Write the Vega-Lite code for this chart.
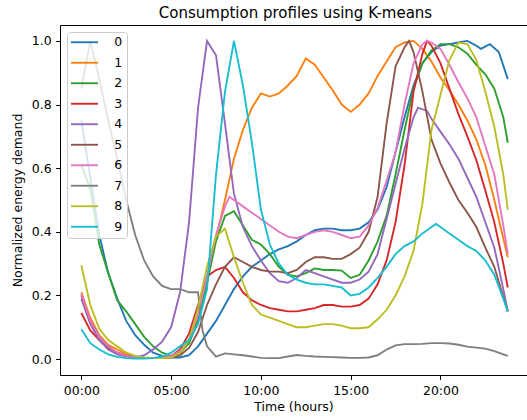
{
"$schema": "https://vega.github.io/schema/vega-lite/v6.json",
"width": 467, "height": 350,
"autosize": {"type": "none"},
"padding": {"left": 60, "top": 25, "right": 0, "bottom": 45},
"background": "white",
"config": {"view": {"stroke": null}, "font": "DejaVu Sans"},
"title": {"text": "Consumption profiles using K-means", "fontSize": 15, "fontWeight": "normal", "font": "DejaVu Sans", "color": "black", "anchor": "middle", "frame": "group", "baseline": "alphabetic", "offset": -8, "dx": 2},
"data": {"values": [
{"h":0,"c":"0","v":0.75},{"h":0.5,"c":"0","v":0.57},{"h":1,"c":"0","v":0.39},{"h":1.5,"c":"0","v":0.27},{"h":2,"c":"0","v":0.19},{"h":2.5,"c":"0","v":0.12},{"h":3,"c":"0","v":0.075},{"h":3.5,"c":"0","v":0.045},{"h":4,"c":"0","v":0.02},{"h":4.5,"c":"0","v":0.01},{"h":5,"c":"0","v":0.005},{"h":5.5,"c":"0","v":0.005},{"h":6,"c":"0","v":0.012},{"h":6.5,"c":"0","v":0.04},{"h":7,"c":"0","v":0.08},{"h":7.5,"c":"0","v":0.12},{"h":8,"c":"0","v":0.17},{"h":8.5,"c":"0","v":0.22},{"h":9,"c":"0","v":0.26},{"h":9.5,"c":"0","v":0.29},{"h":10,"c":"0","v":0.31},{"h":10.5,"c":"0","v":0.33},{"h":11,"c":"0","v":0.345},{"h":11.5,"c":"0","v":0.355},{"h":12,"c":"0","v":0.37},{"h":12.5,"c":"0","v":0.39},{"h":13,"c":"0","v":0.405},{"h":13.5,"c":"0","v":0.41},{"h":14,"c":"0","v":0.41},{"h":14.5,"c":"0","v":0.405},{"h":15,"c":"0","v":0.405},{"h":15.5,"c":"0","v":0.41},{"h":16,"c":"0","v":0.43},{"h":16.5,"c":"0","v":0.47},{"h":17,"c":"0","v":0.54},{"h":17.5,"c":"0","v":0.65},{"h":18,"c":"0","v":0.76},{"h":18.5,"c":"0","v":0.86},{"h":19,"c":"0","v":0.93},{"h":19.5,"c":"0","v":0.965},{"h":20,"c":"0","v":0.985},{"h":20.5,"c":"0","v":0.99},{"h":21,"c":"0","v":0.995},{"h":21.5,"c":"0","v":1.0},{"h":22,"c":"0","v":0.985},{"h":22.25,"c":"0","v":0.975},{"h":22.75,"c":"0","v":0.99},{"h":23.25,"c":"0","v":0.965},{"h":23.75,"c":"0","v":0.88},
{"h":0,"c":"1","v":0.21},{"h":0.5,"c":"1","v":0.13},{"h":1,"c":"1","v":0.075},{"h":1.5,"c":"1","v":0.045},{"h":2,"c":"1","v":0.03},{"h":2.5,"c":"1","v":0.015},{"h":3,"c":"1","v":0.008},{"h":3.5,"c":"1","v":0.004},{"h":4,"c":"1","v":0.003},{"h":4.5,"c":"1","v":0.003},{"h":5,"c":"1","v":0.006},{"h":5.5,"c":"1","v":0.02},{"h":6,"c":"1","v":0.06},{"h":6.5,"c":"1","v":0.13},{"h":7,"c":"1","v":0.24},{"h":7.5,"c":"1","v":0.38},{"h":8,"c":"1","v":0.5},{"h":8.5,"c":"1","v":0.63},{"h":9,"c":"1","v":0.72},{"h":9.5,"c":"1","v":0.79},{"h":10,"c":"1","v":0.835},{"h":10.5,"c":"1","v":0.825},{"h":11,"c":"1","v":0.835},{"h":11.5,"c":"1","v":0.86},{"h":12,"c":"1","v":0.89},{"h":12.5,"c":"1","v":0.945},{"h":13,"c":"1","v":0.925},{"h":13.5,"c":"1","v":0.885},{"h":14,"c":"1","v":0.845},{"h":14.5,"c":"1","v":0.8},{"h":15,"c":"1","v":0.777},{"h":15.5,"c":"1","v":0.8},{"h":16,"c":"1","v":0.835},{"h":16.5,"c":"1","v":0.89},{"h":17,"c":"1","v":0.935},{"h":17.5,"c":"1","v":0.98},{"h":18,"c":"1","v":0.995},{"h":18.5,"c":"1","v":1.0},{"h":19,"c":"1","v":0.975},{"h":19.5,"c":"1","v":0.935},{"h":20,"c":"1","v":0.885},{"h":20.5,"c":"1","v":0.845},{"h":21,"c":"1","v":0.8},{"h":21.5,"c":"1","v":0.75},{"h":22,"c":"1","v":0.69},{"h":22.5,"c":"1","v":0.61},{"h":23,"c":"1","v":0.5},{"h":23.5,"c":"1","v":0.38},{"h":23.75,"c":"1","v":0.32},
{"h":0,"c":"2","v":0.61},{"h":0.5,"c":"2","v":0.535},{"h":1,"c":"2","v":0.36},{"h":1.5,"c":"2","v":0.27},{"h":2,"c":"2","v":0.185},{"h":2.5,"c":"2","v":0.15},{"h":3,"c":"2","v":0.11},{"h":3.5,"c":"2","v":0.07},{"h":4,"c":"2","v":0.04},{"h":4.5,"c":"2","v":0.02},{"h":5,"c":"2","v":0.01},{"h":5.5,"c":"2","v":0.02},{"h":6,"c":"2","v":0.05},{"h":6.5,"c":"2","v":0.12},{"h":7,"c":"2","v":0.24},{"h":7.5,"c":"2","v":0.37},{"h":8,"c":"2","v":0.45},{"h":8.5,"c":"2","v":0.465},{"h":9,"c":"2","v":0.42},{"h":9.5,"c":"2","v":0.375},{"h":10,"c":"2","v":0.36},{"h":10.5,"c":"2","v":0.33},{"h":11,"c":"2","v":0.29},{"h":11.5,"c":"2","v":0.265},{"h":12,"c":"2","v":0.26},{"h":12.5,"c":"2","v":0.27},{"h":13,"c":"2","v":0.285},{"h":13.5,"c":"2","v":0.28},{"h":14,"c":"2","v":0.28},{"h":14.5,"c":"2","v":0.278},{"h":15,"c":"2","v":0.255},{"h":15.5,"c":"2","v":0.265},{"h":16,"c":"2","v":0.31},{"h":16.5,"c":"2","v":0.37},{"h":17,"c":"2","v":0.45},{"h":17.5,"c":"2","v":0.58},{"h":18,"c":"2","v":0.72},{"h":18.5,"c":"2","v":0.85},{"h":19,"c":"2","v":0.93},{"h":19.5,"c":"2","v":0.97},{"h":20,"c":"2","v":0.99},{"h":20.5,"c":"2","v":0.99},{"h":21,"c":"2","v":0.98},{"h":21.5,"c":"2","v":0.96},{"h":22,"c":"2","v":0.925},{"h":22.5,"c":"2","v":0.895},{"h":23,"c":"2","v":0.85},{"h":23.5,"c":"2","v":0.76},{"h":23.75,"c":"2","v":0.68},
{"h":0,"c":"3","v":0.145},{"h":0.5,"c":"3","v":0.09},{"h":1,"c":"3","v":0.06},{"h":1.5,"c":"3","v":0.035},{"h":2,"c":"3","v":0.02},{"h":2.5,"c":"3","v":0.01},{"h":3,"c":"3","v":0.005},{"h":3.5,"c":"3","v":0.003},{"h":4,"c":"3","v":0.003},{"h":4.5,"c":"3","v":0.005},{"h":5,"c":"3","v":0.01},{"h":5.5,"c":"3","v":0.03},{"h":6,"c":"3","v":0.08},{"h":6.5,"c":"3","v":0.17},{"h":7,"c":"3","v":0.26},{"h":7.5,"c":"3","v":0.28},{"h":8,"c":"3","v":0.29},{"h":8.5,"c":"3","v":0.255},{"h":9,"c":"3","v":0.21},{"h":9.5,"c":"3","v":0.185},{"h":10,"c":"3","v":0.17},{"h":10.5,"c":"3","v":0.16},{"h":11,"c":"3","v":0.155},{"h":11.5,"c":"3","v":0.15},{"h":12,"c":"3","v":0.15},{"h":12.5,"c":"3","v":0.155},{"h":13,"c":"3","v":0.16},{"h":13.5,"c":"3","v":0.17},{"h":14,"c":"3","v":0.17},{"h":14.5,"c":"3","v":0.165},{"h":15,"c":"3","v":0.165},{"h":15.5,"c":"3","v":0.17},{"h":16,"c":"3","v":0.19},{"h":16.5,"c":"3","v":0.235},{"h":17,"c":"3","v":0.31},{"h":17.5,"c":"3","v":0.43},{"h":18,"c":"3","v":0.61},{"h":18.5,"c":"3","v":0.84},{"h":19,"c":"3","v":0.96},{"h":19.25,"c":"3","v":1.0},{"h":19.5,"c":"3","v":0.985},{"h":20,"c":"3","v":0.93},{"h":20.5,"c":"3","v":0.85},{"h":21,"c":"3","v":0.77},{"h":21.5,"c":"3","v":0.7},{"h":22,"c":"3","v":0.625},{"h":22.5,"c":"3","v":0.53},{"h":23,"c":"3","v":0.43},{"h":23.5,"c":"3","v":0.3},{"h":23.75,"c":"3","v":0.225},
{"h":0,"c":"4","v":0.19},{"h":0.5,"c":"4","v":0.11},{"h":1,"c":"4","v":0.06},{"h":1.5,"c":"4","v":0.03},{"h":2,"c":"4","v":0.015},{"h":2.5,"c":"4","v":0.008},{"h":3,"c":"4","v":0.005},{"h":3.5,"c":"4","v":0.012},{"h":4,"c":"4","v":0.03},{"h":4.5,"c":"4","v":0.055},{"h":5,"c":"4","v":0.1},{"h":5.5,"c":"4","v":0.21},{"h":6,"c":"4","v":0.43},{"h":6.5,"c":"4","v":0.79},{"h":7,"c":"4","v":1.0},{"h":7.5,"c":"4","v":0.955},{"h":8,"c":"4","v":0.74},{"h":8.5,"c":"4","v":0.52},{"h":9,"c":"4","v":0.415},{"h":9.5,"c":"4","v":0.355},{"h":10,"c":"4","v":0.31},{"h":10.5,"c":"4","v":0.27},{"h":11,"c":"4","v":0.245},{"h":11.5,"c":"4","v":0.24},{"h":12,"c":"4","v":0.255},{"h":12.5,"c":"4","v":0.28},{"h":13,"c":"4","v":0.27},{"h":13.5,"c":"4","v":0.26},{"h":14,"c":"4","v":0.25},{"h":14.5,"c":"4","v":0.24},{"h":15,"c":"4","v":0.24},{"h":15.5,"c":"4","v":0.25},{"h":16,"c":"4","v":0.275},{"h":16.5,"c":"4","v":0.33},{"h":17,"c":"4","v":0.44},{"h":17.5,"c":"4","v":0.55},{"h":18,"c":"4","v":0.66},{"h":18.5,"c":"4","v":0.76},{"h":18.75,"c":"4","v":0.79},{"h":19.25,"c":"4","v":0.78},{"h":19.5,"c":"4","v":0.755},{"h":20,"c":"4","v":0.715},{"h":20.5,"c":"4","v":0.675},{"h":21,"c":"4","v":0.63},{"h":21.5,"c":"4","v":0.57},{"h":22,"c":"4","v":0.51},{"h":22.5,"c":"4","v":0.43},{"h":23,"c":"4","v":0.35},{"h":23.5,"c":"4","v":0.22},{"h":23.75,"c":"4","v":0.15},
{"h":0,"c":"5","v":0.2},{"h":0.5,"c":"5","v":0.12},{"h":1,"c":"5","v":0.07},{"h":1.5,"c":"5","v":0.04},{"h":2,"c":"5","v":0.02},{"h":2.5,"c":"5","v":0.01},{"h":3,"c":"5","v":0.005},{"h":3.5,"c":"5","v":0.003},{"h":4,"c":"5","v":0.003},{"h":4.5,"c":"5","v":0.003},{"h":5,"c":"5","v":0.005},{"h":5.5,"c":"5","v":0.012},{"h":6,"c":"5","v":0.035},{"h":6.5,"c":"5","v":0.085},{"h":7,"c":"5","v":0.17},{"h":7.5,"c":"5","v":0.235},{"h":8,"c":"5","v":0.29},{"h":8.5,"c":"5","v":0.32},{"h":9,"c":"5","v":0.305},{"h":9.5,"c":"5","v":0.29},{"h":10,"c":"5","v":0.28},{"h":10.5,"c":"5","v":0.275},{"h":11,"c":"5","v":0.275},{"h":11.5,"c":"5","v":0.27},{"h":12,"c":"5","v":0.28},{"h":12.5,"c":"5","v":0.305},{"h":13,"c":"5","v":0.32},{"h":13.5,"c":"5","v":0.32},{"h":14,"c":"5","v":0.315},{"h":14.5,"c":"5","v":0.315},{"h":15,"c":"5","v":0.33},{"h":15.5,"c":"5","v":0.35},{"h":16,"c":"5","v":0.4},{"h":16.5,"c":"5","v":0.51},{"h":17,"c":"5","v":0.74},{"h":17.5,"c":"5","v":0.92},{"h":18,"c":"5","v":0.98},{"h":18.25,"c":"5","v":1.0},{"h":18.5,"c":"5","v":0.965},{"h":19,"c":"5","v":0.84},{"h":19.5,"c":"5","v":0.69},{"h":20,"c":"5","v":0.615},{"h":20.5,"c":"5","v":0.555},{"h":21,"c":"5","v":0.5},{"h":21.5,"c":"5","v":0.46},{"h":22,"c":"5","v":0.415},{"h":22.5,"c":"5","v":0.35},{"h":23,"c":"5","v":0.29},{"h":23.5,"c":"5","v":0.195},{"h":23.75,"c":"5","v":0.15},
{"h":0,"c":"6","v":0.205},{"h":0.5,"c":"6","v":0.12},{"h":1,"c":"6","v":0.07},{"h":1.5,"c":"6","v":0.04},{"h":2,"c":"6","v":0.02},{"h":2.5,"c":"6","v":0.01},{"h":3,"c":"6","v":0.005},{"h":3.5,"c":"6","v":0.003},{"h":4,"c":"6","v":0.003},{"h":4.5,"c":"6","v":0.005},{"h":5,"c":"6","v":0.01},{"h":5.5,"c":"6","v":0.025},{"h":6,"c":"6","v":0.06},{"h":6.5,"c":"6","v":0.14},{"h":7,"c":"6","v":0.26},{"h":7.5,"c":"6","v":0.39},{"h":8,"c":"6","v":0.48},{"h":8.25,"c":"6","v":0.51},{"h":8.5,"c":"6","v":0.5},{"h":9,"c":"6","v":0.48},{"h":9.5,"c":"6","v":0.46},{"h":10,"c":"6","v":0.44},{"h":10.5,"c":"6","v":0.42},{"h":11,"c":"6","v":0.4},{"h":11.5,"c":"6","v":0.385},{"h":12,"c":"6","v":0.38},{"h":12.5,"c":"6","v":0.39},{"h":13,"c":"6","v":0.4},{"h":13.5,"c":"6","v":0.405},{"h":14,"c":"6","v":0.4},{"h":14.5,"c":"6","v":0.39},{"h":15,"c":"6","v":0.38},{"h":15.5,"c":"6","v":0.385},{"h":16,"c":"6","v":0.42},{"h":16.5,"c":"6","v":0.475},{"h":17,"c":"6","v":0.56},{"h":17.5,"c":"6","v":0.65},{"h":18,"c":"6","v":0.8},{"h":18.5,"c":"6","v":0.93},{"h":19,"c":"6","v":0.99},{"h":19.25,"c":"6","v":1.0},{"h":19.5,"c":"6","v":0.995},{"h":20,"c":"6","v":0.975},{"h":20.5,"c":"6","v":0.925},{"h":21,"c":"6","v":0.87},{"h":21.5,"c":"6","v":0.82},{"h":22,"c":"6","v":0.76},{"h":22.5,"c":"6","v":0.67},{"h":23,"c":"6","v":0.58},{"h":23.5,"c":"6","v":0.42},{"h":23.75,"c":"6","v":0.33},
{"h":0,"c":"7","v":0.85},{"h":0.5,"c":"7","v":1.0},{"h":1,"c":"7","v":0.88},{"h":1.5,"c":"7","v":0.75},{"h":2,"c":"7","v":0.63},{"h":2.5,"c":"7","v":0.5},{"h":3,"c":"7","v":0.39},{"h":3.5,"c":"7","v":0.31},{"h":4,"c":"7","v":0.26},{"h":4.5,"c":"7","v":0.23},{"h":5,"c":"7","v":0.22},{"h":5.5,"c":"7","v":0.22},{"h":6,"c":"7","v":0.21},{"h":6.5,"c":"7","v":0.21},{"h":6.75,"c":"7","v":0.09},{"h":7,"c":"7","v":0.04},{"h":7.5,"c":"7","v":0.008},{"h":8,"c":"7","v":0.018},{"h":8.5,"c":"7","v":0.015},{"h":9,"c":"7","v":0.012},{"h":9.5,"c":"7","v":0.008},{"h":10,"c":"7","v":0.004},{"h":10.5,"c":"7","v":0.003},{"h":11,"c":"7","v":0.003},{"h":11.5,"c":"7","v":0.008},{"h":12,"c":"7","v":0.013},{"h":12.5,"c":"7","v":0.01},{"h":13,"c":"7","v":0.008},{"h":13.5,"c":"7","v":0.007},{"h":14,"c":"7","v":0.006},{"h":14.5,"c":"7","v":0.005},{"h":15,"c":"7","v":0.004},{"h":15.5,"c":"7","v":0.004},{"h":16,"c":"7","v":0.005},{"h":16.5,"c":"7","v":0.012},{"h":17,"c":"7","v":0.03},{"h":17.5,"c":"7","v":0.043},{"h":18,"c":"7","v":0.047},{"h":18.5,"c":"7","v":0.047},{"h":19,"c":"7","v":0.048},{"h":19.5,"c":"7","v":0.05},{"h":20,"c":"7","v":0.05},{"h":20.5,"c":"7","v":0.049},{"h":21,"c":"7","v":0.045},{"h":21.5,"c":"7","v":0.039},{"h":22,"c":"7","v":0.036},{"h":22.5,"c":"7","v":0.033},{"h":23,"c":"7","v":0.025},{"h":23.5,"c":"7","v":0.015},{"h":23.75,"c":"7","v":0.01},
{"h":0,"c":"8","v":0.295},{"h":0.5,"c":"8","v":0.17},{"h":1,"c":"8","v":0.095},{"h":1.5,"c":"8","v":0.06},{"h":2,"c":"8","v":0.04},{"h":2.5,"c":"8","v":0.02},{"h":3,"c":"8","v":0.01},{"h":3.5,"c":"8","v":0.005},{"h":4,"c":"8","v":0.003},{"h":4.5,"c":"8","v":0.003},{"h":5,"c":"8","v":0.005},{"h":5.5,"c":"8","v":0.02},{"h":6,"c":"8","v":0.06},{"h":6.5,"c":"8","v":0.16},{"h":7,"c":"8","v":0.29},{"h":7.5,"c":"8","v":0.385},{"h":8,"c":"8","v":0.41},{"h":8.5,"c":"8","v":0.32},{"h":9,"c":"8","v":0.24},{"h":9.5,"c":"8","v":0.17},{"h":10,"c":"8","v":0.14},{"h":10.5,"c":"8","v":0.13},{"h":11,"c":"8","v":0.12},{"h":11.5,"c":"8","v":0.11},{"h":12,"c":"8","v":0.1},{"h":12.5,"c":"8","v":0.1},{"h":13,"c":"8","v":0.105},{"h":13.5,"c":"8","v":0.11},{"h":14,"c":"8","v":0.11},{"h":14.5,"c":"8","v":0.105},{"h":15,"c":"8","v":0.097},{"h":15.5,"c":"8","v":0.097},{"h":16,"c":"8","v":0.1},{"h":16.5,"c":"8","v":0.125},{"h":17,"c":"8","v":0.155},{"h":17.5,"c":"8","v":0.2},{"h":18,"c":"8","v":0.26},{"h":18.5,"c":"8","v":0.34},{"h":19,"c":"8","v":0.49},{"h":19.5,"c":"8","v":0.72},{"h":20,"c":"8","v":0.83},{"h":20.5,"c":"8","v":0.94},{"h":21,"c":"8","v":0.995},{"h":21.5,"c":"8","v":0.99},{"h":22,"c":"8","v":0.94},{"h":22.5,"c":"8","v":0.84},{"h":23,"c":"8","v":0.73},{"h":23.5,"c":"8","v":0.58},{"h":23.75,"c":"8","v":0.47},
{"h":0,"c":"9","v":0.094},{"h":0.5,"c":"9","v":0.05},{"h":1,"c":"9","v":0.03},{"h":1.5,"c":"9","v":0.015},{"h":2,"c":"9","v":0.007},{"h":2.5,"c":"9","v":0.003},{"h":3,"c":"9","v":0.002},{"h":3.5,"c":"9","v":0.002},{"h":4,"c":"9","v":0.003},{"h":4.5,"c":"9","v":0.008},{"h":5,"c":"9","v":0.02},{"h":5.5,"c":"9","v":0.04},{"h":6,"c":"9","v":0.06},{"h":6.5,"c":"9","v":0.11},{"h":7,"c":"9","v":0.22},{"h":7.5,"c":"9","v":0.58},{"h":8,"c":"9","v":0.84},{"h":8.5,"c":"9","v":1.0},{"h":9,"c":"9","v":0.86},{"h":9.5,"c":"9","v":0.68},{"h":10,"c":"9","v":0.47},{"h":10.5,"c":"9","v":0.36},{"h":11,"c":"9","v":0.3},{"h":11.5,"c":"9","v":0.265},{"h":12,"c":"9","v":0.25},{"h":12.5,"c":"9","v":0.24},{"h":13,"c":"9","v":0.235},{"h":13.5,"c":"9","v":0.235},{"h":14,"c":"9","v":0.23},{"h":14.5,"c":"9","v":0.225},{"h":15,"c":"9","v":0.2},{"h":15.5,"c":"9","v":0.205},{"h":16,"c":"9","v":0.225},{"h":16.5,"c":"9","v":0.255},{"h":17,"c":"9","v":0.29},{"h":17.5,"c":"9","v":0.33},{"h":18,"c":"9","v":0.355},{"h":18.5,"c":"9","v":0.37},{"h":19,"c":"9","v":0.395},{"h":19.5,"c":"9","v":0.415},{"h":19.75,"c":"9","v":0.425},{"h":20,"c":"9","v":0.415},{"h":20.5,"c":"9","v":0.395},{"h":21,"c":"9","v":0.375},{"h":21.5,"c":"9","v":0.355},{"h":22,"c":"9","v":0.34},{"h":22.5,"c":"9","v":0.31},{"h":23,"c":"9","v":0.265},{"h":23.5,"c":"9","v":0.19},{"h":23.75,"c":"9","v":0.15}
]},
"resolve": {"axis": {"x": "independent", "y": "independent"}},
"layer": [
{
"mark": {"type": "line", "strokeWidth": 1.875},
"encoding": {
"x": {"field": "h", "type": "quantitative", "scale": {"domain": [-1.1875, 24.82], "nice": false, "zero": false},
 "axis": {"orient": "bottom", "values": [0, 5, 10, 15, 20], "labelExpr": "(datum.value < 10 ? '0' : '') + datum.value + ':00'", "grid": false, "domainColor": "black", "domainWidth": 1, "tickColor": "black", "tickWidth": 1, "tickSize": 4.4, "labelFont": "DejaVu Sans", "labelFontSize": 12.5, "labelColor": "black", "labelPadding": 5, "labelFlush": false, "labelOverlap": false, "title": "Time (hours)", "titleFont": "DejaVu Sans", "titleFontSize": 12.5, "titleFontWeight": "normal", "titleColor": "black", "titlePadding": 4}},
"y": {"field": "v", "type": "quantitative", "scale": {"domain": [-0.05, 1.05], "nice": false, "zero": false},
 "axis": {"orient": "left", "values": [0, 0.2, 0.4, 0.6, 0.8, 1.0], "format": ".1f", "grid": false, "domainColor": "black", "domainWidth": 1, "tickColor": "black", "tickWidth": 1, "tickSize": 4.4, "labelFont": "DejaVu Sans", "labelFontSize": 12.5, "labelColor": "black", "labelPadding": 4.4, "labelFlush": false, "labelOverlap": false, "title": "Normalized energy demand", "titleFont": "DejaVu Sans", "titleFontSize": 12.5, "titleFontWeight": "normal", "titleColor": "black", "titlePadding": 7}},
"color": {"field": "c", "type": "nominal",
 "scale": {"domain": ["0","1","2","3","4","5","6","7","8","9"], "range": ["#1f77b4","#ff7f0e","#2ca02c","#d62728","#9467bd","#8c564b","#e377c2","#7f7f7f","#bcbd22","#17becf"]},
 "legend": {"orient": "none", "legendX": 7, "legendY": 7, "title": null, "symbolType": "M-2.7,0H2.7", "symbolSize": 100, "symbolStrokeWidth": 1.875, "symbolOffset": 7.25, "labelOffset": 23.5, "rowPadding": 7.5, "padding": 4, "labelFont": "DejaVu Sans", "labelFontSize": 12.5, "labelColor": "black", "fillColor": "rgba(255,255,255,0.8)", "strokeColor": "#cccccc", "cornerRadius": 3}}
}
},
{
"mark": {"type": "line", "opacity": 0},
"encoding": {
"x": {"field": "h", "type": "quantitative", "axis": {"orient": "top", "labels": false, "ticks": false, "grid": false, "title": null, "domainColor": "black", "domainWidth": 1}},
"y": {"field": "v", "type": "quantitative", "axis": null}
}
}
]
}
